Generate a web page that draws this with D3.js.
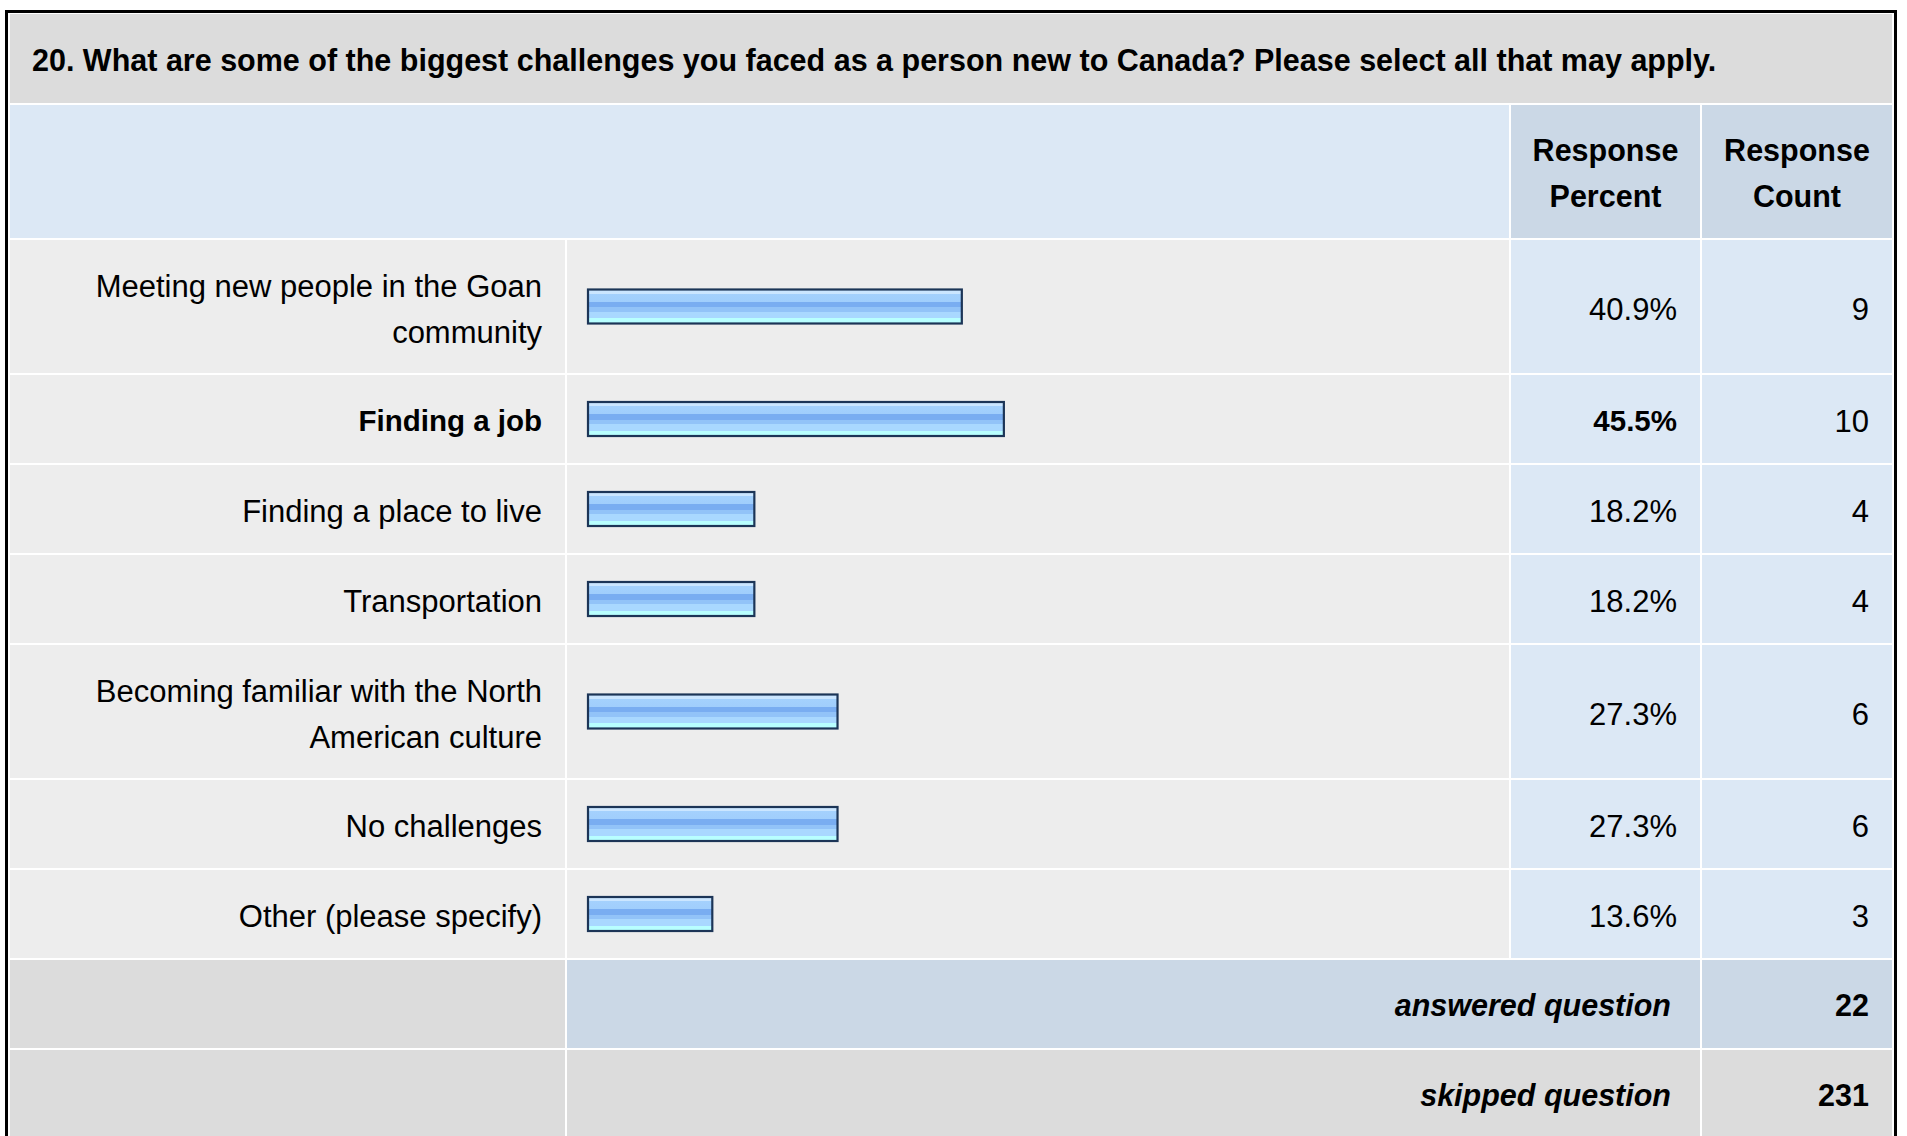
<!DOCTYPE html>
<html>
<head lang="en">
    <meta charset="UTF-8">
    <title>survey q20</title>
    <style>
        body { margin: 0; background: #fff; }
        svg text { font-family: Arial, "Liberation Sans", Helvetica, sans-serif; font-size: 31px; fill: #000; }
        .bold { font-weight: bold; font-size: 30.5px; }
        .hi { font-weight: bold; font-size: 29.5px; }
        .summary { font-weight: bold; font-style: italic; font-size: 30.5px; }
    </style>
</head>
<body>
<svg width="1907" height="1136"></svg>

<script src="https://cdn.jsdelivr.net/npm/d3@7"></script>
<script>
    var title = "20. What are some of the biggest challenges you faced as a person new to Canada? Please select all that may apply.";
    var categories = [
        "Meeting new people in the Goan community",
        "Finding a job",
        "Finding a place to live",
        "Transportation",
        "Becoming familiar with the North American culture",
        "No challenges",
        "Other (please specify)"
    ];
    var percents = [40.9, 45.5, 18.2, 18.2, 27.3, 27.3, 13.6];
    var counts = [9, 10, 4, 4, 6, 6, 3];
    var headers = [["Response", "Percent"], ["Response", "Count"]];
    var answered = 22;
    var skipped = 231;

    var svg = d3.select("svg");

    // column edges
    var x0 = 10, xLab = 565, xPct = 1511, xCnt = 1702, x1 = 1892, gap = 2;
    var pad = 23;
    var maxIdx = percents.indexOf(d3.max(percents));

    var barX = 588;
    var scale = d3.scaleLinear().domain([0, 100]).range([0, 914]);

    // gradient for bars
    var grad = svg.append("defs").append("linearGradient")
            .attr("id", "barGrad").attr("x1", 0).attr("y1", 0).attr("x2", 0).attr("y2", 1);
    [[0, "#cbe6ff"], [0.12, "#cbe6ff"], [0.12, "#a4d1fd"], [0.36, "#a0cefc"], [0.36, "#79adf1"],
     [0.52, "#79adf1"], [0.52, "#92c3f8"], [0.66, "#92c3f8"], [0.66, "#a9d8ff"], [0.84, "#a9d8ff"],
     [0.84, "#b8ffff"], [1, "#b8ffff"]].forEach(function (s) {
        grad.append("stop").attr("offset", s[0]).attr("stop-color", s[1]);
    });

    // outer frame
    svg.append("rect")
            .attr("x", 6.5).attr("y", 11.5).attr("width", 1889).attr("height", 1200)
            .attr("fill", "#fff").attr("stroke", "#000").attr("stroke-width", 3);

    function cell(x, y, w, h, fill) {
        svg.append("rect").attr("x", x).attr("y", y).attr("width", w).attr("height", h).attr("fill", fill);
    }

    // title
    cell(x0, 14, x1 - x0, 89, "#dcdcdc");
    svg.append("text").attr("class", "bold").attr("x", 32).attr("y", 71).text(title);

    // header
    cell(x0, 105, xPct - gap - x0, 133, "#dce8f5");
    cell(xPct, 105, xCnt - gap - xPct, 133, "#cbd8e6");
    cell(xCnt, 105, x1 - xCnt, 133, "#cbd8e6");
    headers.forEach(function (lines, i) {
        var cx = i === 0 ? (xPct + xCnt - gap) / 2 : (xCnt + x1) / 2;
        lines.forEach(function (l, j) {
            svg.append("text").attr("class", "bold").attr("text-anchor", "middle")
                    .attr("x", cx).attr("y", 173 + (j - 0.5) * 46).attr("dy", "0.36em").text(l);
        });
    });

    // wrap labels
    var maxW = xLab - x0 - 2 * pad;
    var probe = svg.append("text");
    function wrap(str, hi) {
        probe.attr("class", hi ? "hi" : null);
        var words = str.split(" "), lines = [], cur = "";
        words.forEach(function (w) {
            var t = cur ? cur + " " + w : w;
            probe.text(t);
            if (probe.node().getComputedTextLength() > maxW && cur) {
                lines.push(cur);
                cur = w;
            } else cur = t;
        });
        lines.push(cur);
        return lines;
    }
    var rows = categories.map(function (c, i) {
        return {label: c, lines: wrap(c, i === maxIdx), pct: percents[i], count: counts[i], hi: i === maxIdx};
    });
    probe.remove();

    var y = 240;
    rows.forEach(function (r) {
        r.y = y;
        r.h = 43 + 45 * r.lines.length;
        y += r.h + gap;
    });

    var g = svg.selectAll("g.row").data(rows).enter().append("g").attr("class", "row");

    g.append("rect").attr("x", x0).attr("y", function (d) { return d.y; })
            .attr("width", xLab - x0).attr("height", function (d) { return d.h; }).attr("fill", "#ededed");
    g.append("rect").attr("x", xLab + gap).attr("y", function (d) { return d.y; })
            .attr("width", xPct - gap - xLab - gap).attr("height", function (d) { return d.h; }).attr("fill", "#ededed");
    g.append("rect").attr("x", xPct).attr("y", function (d) { return d.y; })
            .attr("width", xCnt - gap - xPct).attr("height", function (d) { return d.h; }).attr("fill", "#dce8f5");
    g.append("rect").attr("x", xCnt).attr("y", function (d) { return d.y; })
            .attr("width", x1 - xCnt).attr("height", function (d) { return d.h; }).attr("fill", "#dce8f5");

    // labels
    g.each(function (d) {
        var sel = d3.select(this);
        var cy = d.y + d.h / 2;
        d.lines.forEach(function (l, j) {
            sel.append("text").attr("class", d.hi ? "hi" : null).attr("text-anchor", "end")
                    .attr("x", xLab - pad).attr("y", cy + (j - (d.lines.length - 1) / 2) * 46)
                    .attr("dy", "0.42em").text(l);
        });
    });

    // bars
    g.append("rect")
            .attr("x", barX)
            .attr("y", function (d) { return d.y + d.h / 2 - 17; })
            .attr("width", function (d) { return scale(d.pct); })
            .attr("height", 34)
            .attr("fill", "url(#barGrad)")
            .attr("stroke", "#1c3557")
            .attr("stroke-width", 2.2);

    g.append("text").attr("class", function (d) { return d.hi ? "hi" : null; })
            .attr("text-anchor", "end").attr("x", xCnt - gap - pad)
            .attr("y", function (d) { return d.y + d.h / 2; }).attr("dy", "0.42em")
            .text(function (d) { return d.pct.toFixed(1) + "%"; });
    g.append("text").attr("text-anchor", "end").attr("x", x1 - pad)
            .attr("y", function (d) { return d.y + d.h / 2; }).attr("dy", "0.42em")
            .text(function (d) { return d.count; });

    // summary rows
    var summary = [
        {label: "answered question", value: answered, mid: "#cbd8e6", right: "#cbd8e6"},
        {label: "skipped question", value: skipped, mid: "#dcdcdc", right: "#dcdcdc"}
    ];
    summary.forEach(function (s) {
        s.y = y;
        s.h = 88;
        y += s.h + gap;
        cell(x0, s.y, xLab - x0, s.h, "#dcdcdc");
        cell(xLab + gap, s.y, xCnt - gap - xLab - gap, s.h, s.mid);
        cell(xCnt, s.y, x1 - xCnt, s.h, s.right);
        svg.append("text").attr("class", "summary").attr("text-anchor", "end")
                .attr("x", xCnt - gap - 29).attr("y", s.y + s.h / 2).attr("dy", "0.4em").text(s.label);
        svg.append("text").attr("class", "bold").attr("text-anchor", "end")
                .attr("x", x1 - pad).attr("y", s.y + s.h / 2).attr("dy", "0.4em").text(s.value);
    });
</script>
</body>
</html>
